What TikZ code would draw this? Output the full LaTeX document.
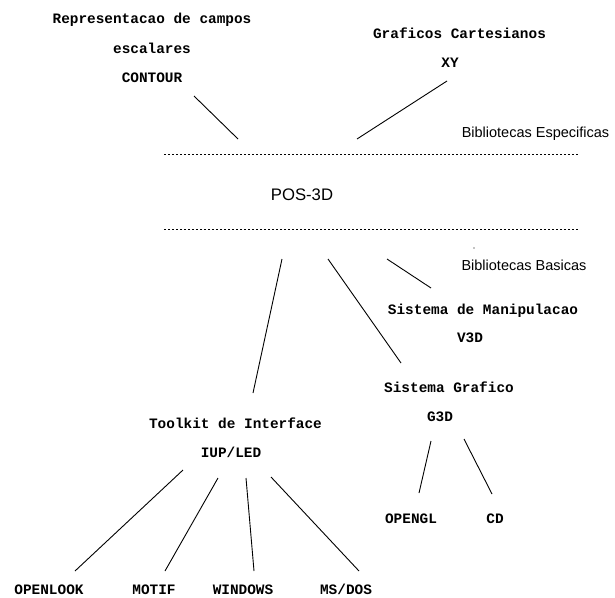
\documentclass[tikz,border=0pt]{standalone}
\usepackage{fontspec}
\setmainfont{Liberation Sans}
\setsansfont{Liberation Sans}
\setmonofont{Liberation Mono}
\begin{document}
\begin{tikzpicture}[x=1pt,y=-1pt,
  mono/.style={font=\fontsize{14.4}{17}\selectfont\ttfamily\bfseries, inner sep=0pt, anchor=base},
  sans/.style={font=\fontsize{14.5}{17}\selectfont\sffamily, inner sep=0pt, anchor=base},
  big/.style={font=\fontsize{16.7}{20}\selectfont\sffamily, inner sep=0pt, anchor=base},
  link/.style={line width=0.9pt, black},
  sep/.style={line width=0.9pt, dash pattern=on 2pt off 2pt}]
\useasboundingbox (0,0) rectangle (615,597);
% texts
\node[mono] (rep) at (152,23) {Representacao de campos};
\node[mono] (esc) at (152,53) {escalares};
\node[mono] (contour) at (152,82) {CONTOUR};
\node[mono] (graf) at (459.5,38) {Graficos Cartesianos};
\node[mono] (xy) at (450,67) {XY};
\node[sans] (bibe) at (535.5,137) {Bibliotecas Especificas};
\node[big] (pos) at (302,200) {POS-3D};
\node[sans] (bibb) at (524,270) {Bibliotecas Basicas};
\node[mono] (man) at (483,314) {Sistema de Manipulacao};
\node[mono] (v3d) at (470,342) {V3D};
\node[mono] (sg) at (449,392) {Sistema Grafico};
\node[mono] (g3d) at (440,421) {G3D};
\node[mono] (tk) at (235.5,428) {Toolkit de Interface};
\node[mono] (iup) at (231,457) {IUP/LED};
\node[mono] (opengl) at (411,523) {OPENGL};
\node[mono] (cd) at (495,523) {CD};
\node[mono] (openlook) at (49,594.5) {OPENLOOK};
\node[mono] (motif) at (154,594.5) {MOTIF};
\node[mono] (windows) at (243,594.5) {WINDOWS};
\node[mono] (msdos) at (346,594.5) {MS/DOS};
% separators
\coordinate (s1a) at (164,154); \coordinate (s1b) at (579,154);
\coordinate (s2a) at (164,229); \coordinate (s2b) at (579,229);
\draw[sep] (s1a) -- (s1b);
\draw[sep] (s2a) -- (s2b);
% stray dot
\fill (474,248) circle (0.6);
% connector end points
\coordinate (c1) at (194,96);  \coordinate (c2) at (238,139);
\coordinate (x1) at (447,81);  \coordinate (x2) at (357,139);
\coordinate (b1) at (387,259); \coordinate (b2) at (431,288);
\coordinate (l1) at (282,259); \coordinate (l2) at (253,393);
\coordinate (m1) at (328,259); \coordinate (m2) at (401,363);
\coordinate (o1) at (183,470); \coordinate (o2) at (75,571);
\coordinate (f1) at (218,478); \coordinate (f2) at (165,571);
\coordinate (w1) at (246,478); \coordinate (w2) at (254,571);
\coordinate (d1) at (271,477); \coordinate (d2) at (359,571);
\coordinate (g1) at (431,441); \coordinate (g2) at (419,493);
\coordinate (h1) at (464,439); \coordinate (h2) at (492,494);
\draw[link] (c1) -- (c2);
\draw[link] (x1) -- (x2);
\draw[link] (b1) -- (b2);
\draw[link] (l1) -- (l2);
\draw[link] (m1) -- (m2);
\draw[link] (o1) -- (o2);
\draw[link] (f1) -- (f2);
\draw[link] (w1) -- (w2);
\draw[link] (d1) -- (d2);
\draw[link] (g1) -- (g2);
\draw[link] (h1) -- (h2);
\end{tikzpicture}
\end{document}
